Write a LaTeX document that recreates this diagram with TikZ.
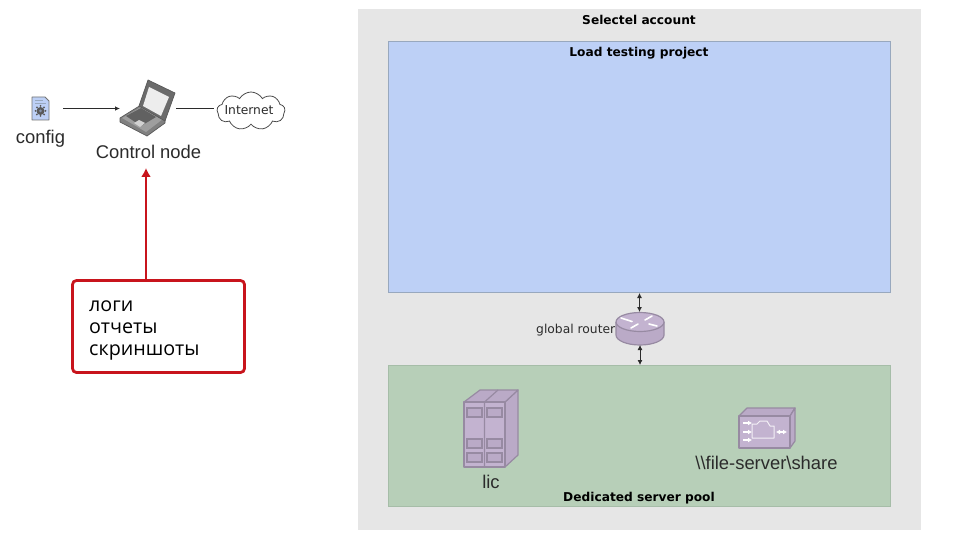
\documentclass[tikz,border=0pt]{standalone}
\usepackage{fontspec}
\setmainfont{Liberation Sans}
\newfontfamily\dejavu{DejaVu Sans}
\newfontfamily\opens{Open Sans}
\usetikzlibrary{arrows.meta,shapes.symbols}
\definecolor{acct}{HTML}{E6E6E6}
\definecolor{blueP}{HTML}{BDD0F6}
\definecolor{blueL}{HTML}{98A8BE}
\definecolor{greenP}{HTML}{B7CFB8}
\definecolor{greenL}{HTML}{A6BDA8}
\definecolor{purp}{HTML}{C3B3D0}
\definecolor{purpD}{HTML}{BAAAC7}
\definecolor{purpL}{HTML}{978AA2}
\definecolor{redB}{HTML}{C8141C}
\definecolor{ink}{HTML}{2B2B2B}
\tikzset{
 panelB/.style={draw=blueL,fill=blueP,line width=.9pt},
 panelG/.style={draw=greenL,fill=greenP,line width=.9pt},
 title/.style={font=\dejavu\bfseries\fontsize{12.2}{14}\selectfont,text=black,inner sep=0pt},
 lab/.style={font=\fontsize{18.4}{20}\selectfont,text=ink,inner sep=0pt},
 thin lab/.style={font=\dejavu\fontsize{12.3}{14}\selectfont,text=ink,inner sep=0pt},
 link/.style={draw=ink,line width=.8pt},
 dbl/.style={draw=ink,line width=.8pt,{Latex[length=5pt,width=5pt]}-{Latex[length=5pt,width=5pt]}},
 pshape/.style={draw=purpL,fill=purp,line width=1.2pt,line join=round},
 pside/.style={draw=purpL,fill=purpD,line width=1.2pt,line join=round},
 pwin/.style={draw=purpL,fill=purpD,line width=1.2pt},
 whiteline/.style={draw=white,line width=1.6pt,line cap=round},
 anchorpt/.style={inner sep=0pt,minimum size=0pt,outer sep=0pt}
}
\begin{document}
\begin{tikzpicture}[x=1pt,y=-1pt]
\useasboundingbox (0,0) rectangle (960,540);
\fill[white] (0,0) rectangle (960,540);
% account panels
\fill[acct] (358,9) rectangle (921,530);
\draw[panelB] (388,41) rectangle (890,292);
\draw[panelG] (388,365) rectangle (890,506);
\node[title] (acc) at (639,20) {Selectel account};
\node[title] (ltp) at (639,53) {Load testing project};
\node[title] (dsp) at (639,498) {Dedicated server pool};
% router
\draw[pside] (616,322) -- (616,335) arc[start angle=180,end angle=0,x radius=24,y radius=10] -- (664,322);
\draw[pshape] (640,322) ellipse[x radius=24,y radius=9.5];
\draw[whiteline] (621,318) -- (632,321.5);
\draw[whiteline] (645,320) -- (652,316);
\draw[whiteline] (649,324) -- (657,326);
\draw[whiteline] (631,328) -- (638,324);
\node[anchorpt] (rtop) at (639.5,312) {};
\node[anchorpt] (rbot) at (640,345) {};
\node[anchorpt] (bluebot) at (639.5,293) {};
\node[anchorpt] (greentop) at (640,365) {};
\draw[dbl] (bluebot) -- (rtop);
\draw[dbl] (rbot) -- (greentop);
\node[thin lab,anchor=west] (grl) at (536,330) {global router};
% lic server
\draw[pside] (505,402) -- (518,390) -- (518,455) -- (505,467) -- cycle;
\draw[pside] (464,402) -- (480,390) -- (518,390) -- (505,402) -- cycle;
\draw[pshape] (464,402) rectangle (505,467);
\draw[purpL,line width=1.2pt] (484.5,402) -- (484.5,467) (484.5,402) -- (498,390);
\foreach \xa in {467,487}{
 \foreach \ya in {408,439,453}{
  \draw[pwin] (\xa,\ya) rectangle ++(15,9);
 }
}
\node[lab] (lic) at (491,482) {lic};
% file server
\draw[pside] (739,416) -- (747,408) -- (795,408) -- (790,416) -- cycle;
\draw[pside] (790,416) -- (795,408) -- (795,441) -- (790,448) -- cycle;
\draw[pshape] (739,416) rectangle (790,448);
\draw[draw=white!80!purp,line width=1pt,line join=round] (752,438) -- (752,424) -- (757,424) -- (760,421) -- (767,421) -- (770,426) -- (774,426) -- (774,438) -- cycle;
\foreach \ya in {423,432,440}{
 \draw[draw=white,line width=1.2pt,-{Latex[length=4pt,width=5pt]}] (743,\ya) -- (752,\ya);
}
\draw[draw=white,line width=1.2pt,{Latex[length=4pt,width=5pt]}-{Latex[length=4pt,width=5pt]}] (776,432) -- (787,432);
\node[lab] (fs) at (766.5,463) {\textbackslash\textbackslash file-server\textbackslash share};
% config icon
\draw[draw=black!55,fill=blueP,line width=.8pt,line join=round] (32,97) -- (45,97) -- (49,101) -- (49,120) -- (32,120) -- cycle;
\draw[draw=blueL,line width=.8pt] (35,100.5) -- (43,100.5) (35,103.5) -- (46,103.5);
\fill[black!65] (40.5,111) circle[radius=4];
\foreach \a in {0,45,...,315}{\fill[black!65] (40.5,111) ++(\a:5) circle[radius=1];}
\fill[blueP!70!black] (40.5,111) circle[radius=1.5];
\node[anchorpt] (cfgicon) at (63,108.5) {};
\node[lab] (cfg) at (40.5,139) {config};
% laptop
\draw[draw=black!65,fill=black!50,line width=.7pt,line join=round] (120,118) -- (141,105) -- (165,118) -- (165,123) -- (147,136) -- (120,122) -- cycle;
\fill[black!38] (122,118) -- (141,107) -- (163,119) -- (146,132) -- cycle;
\draw[draw=black!65,fill=black!58,line width=.7pt,line join=round] (148,80) -- (175,93) -- (165,121) -- (139,106) -- cycle;
\fill[white!93!black] (149,87) -- (169,97) -- (161,116) -- (143,106) -- cycle;
\fill[black!62] (126,116) -- (141,108) -- (156,117) -- (141,126) -- cycle;
\fill[black!18] (134,123) -- (139,120) -- (145,123) -- (140,127) -- cycle;
\node[anchorpt] (lapL) at (120,108.5) {};
\node[anchorpt] (lapR) at (176,108) {};
\node[lab] (cn) at (148.5,152) {Control node};
\node[anchorpt] (cnbot) at (146,168) {};
% cloud
\node[cloud,draw=black!70,fill=white,line width=.8pt,cloud puffs=9,cloud puff arc=120,aspect=1.9,minimum width=68pt,minimum height=38pt,inner sep=0pt] (inet) at (251,111) {};
\node[thin lab] (inettxt) at (249,110) {Internet};
\draw[link,-{Latex[length=5pt,width=4.5pt]}] (cfgicon) -- (lapL);
\draw[link,shorten >=3pt] (lapR) -- (lapR -| inet.west);
% red note
\node[draw=redB,fill=white,line width=2.8pt,rounded corners=4pt,minimum width=172pt,minimum height=92pt,inner sep=0pt] (note) at (158.5,326.5) {};
\node[anchor=west,inner sep=0pt,font=\opens\fontsize{19.7}{22}\selectfont,text=black,align=left] (notetxt) at (89,330) {логи\\отчеты\\скриншоты};
\draw[draw=redB,line width=2.8pt,-{Latex[length=9pt,width=10pt]}] (note.north -| cnbot) -- (cnbot);
\end{tikzpicture}
\end{document}
